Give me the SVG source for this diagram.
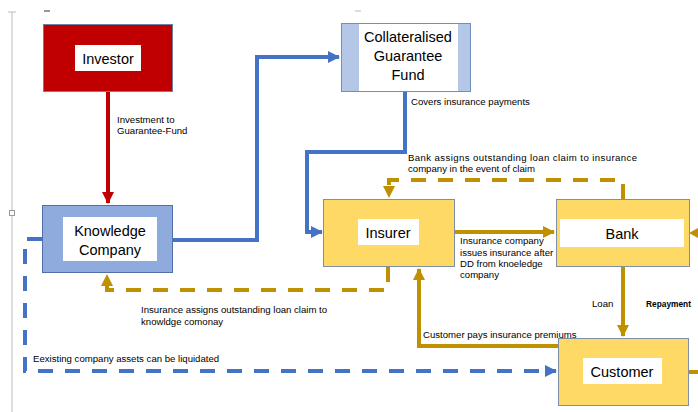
<svg xmlns="http://www.w3.org/2000/svg" width="698" height="412" viewBox="0 0 698 412">
<style>
.box{font-family:"Liberation Sans","Open Sans",Arial,sans-serif;font-size:14.5px;fill:#000;text-anchor:middle}
.lbl{font-family:"Liberation Sans",Arial,sans-serif;font-size:9.6px;fill:#000}
.blue{fill:none;stroke:#4472C4;stroke-width:4}
.gold{fill:none;stroke:#BF9000;stroke-width:4}
.red{fill:none;stroke:#C00000;stroke-width:4}
.dash{stroke-dasharray:15 12}
</style>
<defs>
<marker id="ab" markerUnits="userSpaceOnUse" markerWidth="12" markerHeight="12" refX="11" refY="6" orient="auto"><path d="M0,0 L12,6 L0,12 Z" fill="#4472C4"/></marker>
<marker id="ag" markerUnits="userSpaceOnUse" markerWidth="12" markerHeight="12" refX="11" refY="6" orient="auto"><path d="M0,0 L12,6 L0,12 Z" fill="#BF9000"/></marker>
<marker id="ar" markerUnits="userSpaceOnUse" markerWidth="12" markerHeight="12" refX="11" refY="6" orient="auto"><path d="M0,0 L12,6 L0,12 Z" fill="#C00000"/></marker>
</defs>
<rect width="698" height="412" fill="#fff"/>
<g id="margin">
<line x1="12" y1="12" x2="12" y2="412" stroke="#bbb" stroke-width="1"/>
<line x1="8" y1="12" x2="16" y2="12" stroke="#bbb" stroke-width="1"/>
<rect x="9.5" y="210.5" width="5" height="5" fill="#fff" stroke="#999" stroke-width="1"/>
<line x1="44" y1="11" x2="50" y2="11" stroke="#333" stroke-width="1"/>
<line x1="355" y1="11" x2="361" y2="11" stroke="#bbb" stroke-width="1"/>
</g>
<g id="connectors">
<path class="red" d="M108,92 V203" marker-end="url(#ar)"/>
<path class="blue" d="M172,240 H257 V57 H339" marker-end="url(#ab)"/>
<path class="blue" d="M405,92 V152 H307 V232 H322" marker-end="url(#ab)"/>
<path class="gold" d="M454,232 H554" marker-end="url(#ag)"/>
<path class="gold dash" d="M623,199 V180 H389 V197" marker-end="url(#ag)"/>
<path class="gold dash" d="M388,267 V290 H107 V275" marker-end="url(#ag)"/>
<path class="blue dash" d="M42,239 H25 V371 H556" marker-end="url(#ab)"/>
<path class="gold" d="M623,267 V336" marker-end="url(#ag)"/>
<path class="gold" d="M558,346 H419 V269" marker-end="url(#ag)"/>
<path class="gold" d="M688,372 H698"/>
<path d="M689,233 L698,228 L698,238 Z" fill="#BF9000"/>
<text class="lbl" x="117" y="123">Investment to</text>
<text class="lbl" x="117" y="134">Guarantee-Fund</text>
<text class="lbl" x="411" y="105">Covers insurance payments</text>
<text class="lbl" x="408" y="161" textLength="229" lengthAdjust="spacing">Bank assigns outstanding loan claim to insurance</text>
<text class="lbl" x="408" y="172">company in the event of claim</text>
<text class="lbl" x="460" y="244">Insurance company</text>
<text class="lbl" x="460" y="256">issues insurance after</text>
<text class="lbl" x="460" y="267">DD from knoeledge</text>
<text class="lbl" x="460" y="278">company</text>
<text class="lbl" x="141" y="313">Insurance assigns outstanding loan claim to</text>
<text class="lbl" x="141" y="325">knowldge comonay</text>
<text class="lbl" x="33" y="362">Eexisting company assets can be liquidated</text>
<text class="lbl" x="592" y="307">Loan</text>
<text class="lbl" x="646" y="307" font-weight="bold" font-size="8.6" textLength="45" lengthAdjust="spacingAndGlyphs">Repayment</text>
<text class="lbl" x="423" y="338">Customer pays insurance premiums</text>
</g>
<g id="investor">
<rect x="43.5" y="24.5" width="129" height="67" fill="#C00000" stroke="#6F7FA0" stroke-width="1"/>
<rect x="75" y="45" width="66" height="26" fill="#fff"/>
<text class="box" x="108" y="63.5">Investor</text>
</g>
<g id="fund">
<rect x="341.5" y="23.5" width="129" height="68" fill="#B4C7E7" stroke="#6F8FC0" stroke-width="1"/>
<rect x="359" y="24" width="99" height="67" fill="#fff"/>
<text class="box" x="408" y="42">Collateralised</text>
<text class="box" x="408" y="61">Guarantee</text>
<text class="box" x="408" y="80">Fund</text>
</g>
<g id="knowledge">
<rect x="42.5" y="205.5" width="130" height="67" fill="#8FAADC" stroke="#4F6FA8" stroke-width="1"/>
<rect x="63" y="217" width="94" height="44" fill="#fff"/>
<text class="box" x="110" y="236">Knowledge</text>
<text class="box" x="110" y="255">Company</text>
</g>
<g id="insurer">
<rect x="323.5" y="199.5" width="131" height="67" fill="#FFD966" stroke="#7F8FA6" stroke-width="1"/>
<rect x="358" y="219" width="61" height="26" fill="#fff"/>
<text class="box" x="388" y="237.5">Insurer</text>
</g>
<g id="bank">
<rect x="556.5" y="199.5" width="133" height="67" fill="#FFD966" stroke="#7F8FA6" stroke-width="1"/>
<rect x="560" y="219" width="124" height="28" fill="#fff"/>
<text class="box" x="622" y="238.5">Bank</text>
</g>
<g id="customer">
<rect x="558.5" y="338.5" width="130" height="67" fill="#FFD966" stroke="#7F8FA6" stroke-width="1"/>
<rect x="583" y="358" width="79" height="26" fill="#fff"/>
<text class="box" x="622" y="376.5">Customer</text>
</g>
</svg>
